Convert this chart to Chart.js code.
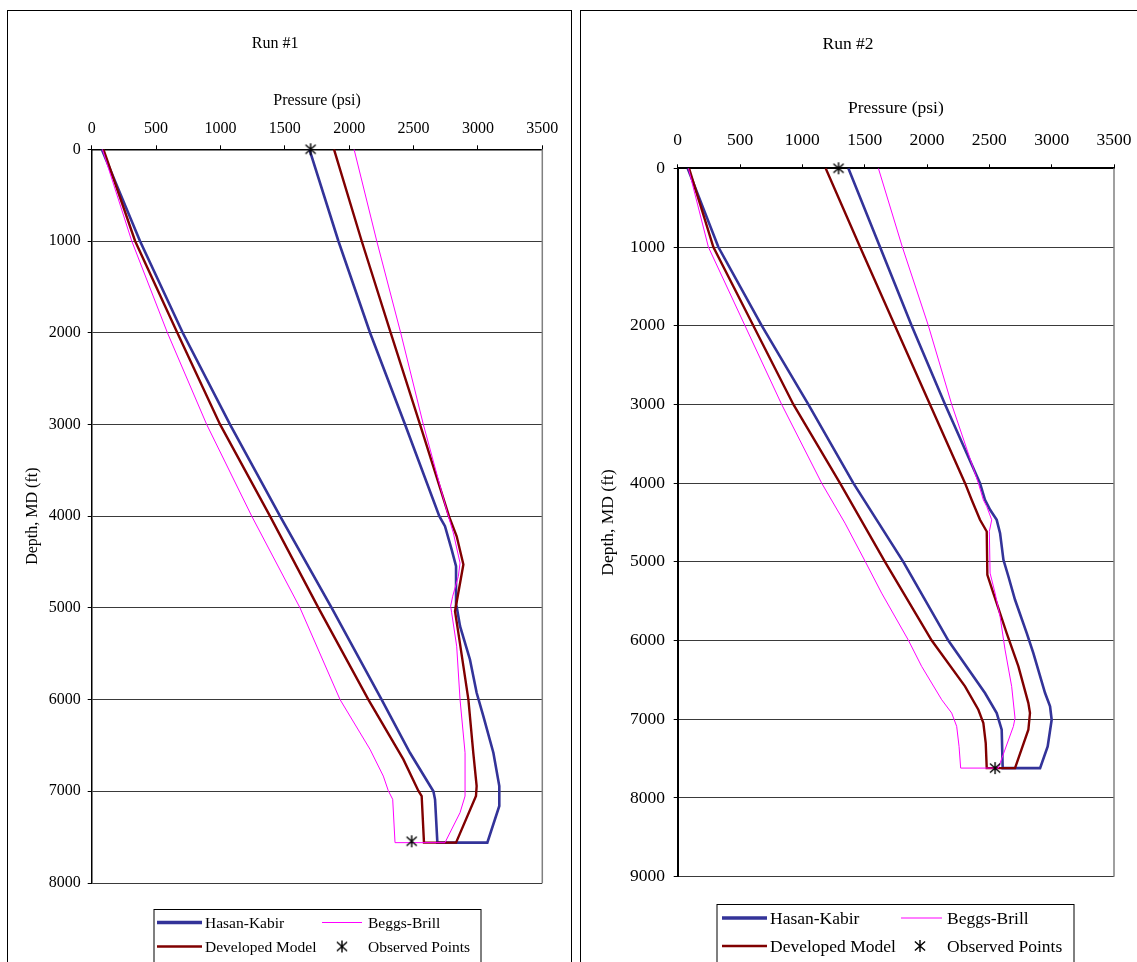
<!DOCTYPE html>
<html>
<head>
<meta charset="utf-8">
<script src="https://cdn.jsdelivr.net/npm/chart.js@4.4.0/dist/chart.umd.min.js"></script>
<style>
  html, body { margin:0; padding:0; background:#fff; width:1137px; height:962px; overflow:hidden; position:relative; }
  .panel { position:absolute; box-sizing:border-box; border:1px solid #000; }
  canvas { position:absolute; }
</style>
</head>
<body>
<div class="panel" style="left:7px; top:10px; width:565px; height:1000px;"></div>
<div class="panel" style="left:580px; top:10px; width:600px; height:1000px;"></div>
<canvas id="c1" width="563" height="951" style="left:8px; top:11px;"></canvas>
<canvas id="c2" width="563" height="951" style="left:582px; top:11px;"></canvas>
<script>
// ---------------- DATA ----------------
const seriesNames = ['Hasan-Kabir', 'Beggs-Brill', 'Developed Model', 'Observed Points'];
const pressureTicks = [0, 500, 1000, 1500, 2000, 2500, 3000, 3500];
const depthTicks1 = [0, 1000, 2000, 3000, 4000, 5000, 6000, 7000, 8000];
const depthTicks2 = [0, 1000, 2000, 3000, 4000, 5000, 6000, 7000, 8000, 9000];

// Run #1
const run1HasanP = [78, 375, 707, 1074, 1463, 1864, 2252, 2472, 2654, 2667, 2685, 3073, 3166, 3166, 3120, 3042, 2990, 2938, 2861, 2835, 2830, 2796, 2744, 2700, 2434, 2162, 1916, 1691];
const run1HasanD = [0, 1000, 2000, 3000, 4000, 5000, 6000, 6580, 7000, 7090, 7560, 7560, 7160, 6943, 6580, 6180, 5926, 5563, 5200, 4989, 4546, 4365, 4110, 4000, 3000, 2000, 1000, 0];
const run1BeggsP = [83, 311, 588, 893, 1243, 1618, 1929, 2162, 2265, 2304, 2338, 2356, 2744, 2861, 2900, 2900, 2861, 2835, 2796, 2788, 2804, 2848, 2861, 2809, 2760, 2576, 2400, 2214, 2038];
const run1BeggsD = [0, 1000, 2000, 3000, 4000, 5000, 6000, 6543, 6834, 6994, 7088, 7560, 7560, 7233, 7052, 6580, 6000, 5418, 5054, 4982, 4873, 4655, 4510, 4183, 3950, 3000, 2000, 1000, 0];
const run1DevP = [91, 337, 665, 997, 1385, 1761, 2149, 2421, 2537, 2563, 2581, 2830, 2985, 2990, 2964, 2926, 2887, 2848, 2822, 2887, 2835, 2775, 2550, 2322, 2097, 1882];
const run1DevD = [0, 1000, 2000, 3000, 4000, 5000, 6000, 6652, 6994, 7052, 7560, 7560, 7052, 6943, 6580, 6000, 5636, 5272, 5036, 4528, 4219, 4000, 3000, 2000, 1000, 0];
const run1ObsP = [1700, 2485];
const run1ObsD = [0, 7545];

// Run #2
const run2HasanP = [80, 326, 674, 1048, 1409, 1810, 2171, 2465, 2559, 2599, 2607, 2907, 2968, 3000, 2987, 2947, 2853, 2800, 2706, 2653, 2613, 2586, 2559, 2506, 2465, 2425, 2145, 1877, 1623, 1369];
const run2HasanD = [0, 1000, 2000, 3000, 4000, 5000, 6000, 6667, 6921, 7133, 7620, 7620, 7345, 7006, 6836, 6667, 6159, 5905, 5482, 5186, 4974, 4635, 4466, 4339, 4212, 4000, 3000, 2000, 1000, 0];
const run2BeggsP = [86, 246, 540, 834, 1155, 1342, 1503, 1636, 1850, 1957, 2118, 2198, 2238, 2257, 2270, 2572, 2693, 2706, 2679, 2626, 2586, 2546, 2506, 2500, 2519, 2479, 2452, 2412, 2198, 2011, 1802, 1610];
const run2BeggsD = [0, 1000, 2000, 3000, 4000, 4508, 4991, 5397, 5994, 6328, 6752, 6921, 7090, 7345, 7620, 7620, 7090, 6985, 6583, 6117, 5694, 5397, 5143, 4614, 4466, 4297, 4212, 4000, 3000, 2000, 1000, 0];
const run2DevP = [91, 286, 607, 928, 1302, 1663, 2038, 2305, 2412, 2452, 2471, 2479, 2706, 2813, 2826, 2813, 2733, 2639, 2532, 2484, 2479, 2425, 2358, 2305, 2024, 1743, 1463, 1187];
const run2DevD = [0, 1000, 2000, 3000, 4000, 5000, 6000, 6582, 6879, 7048, 7302, 7620, 7620, 7133, 6921, 6794, 6328, 5905, 5397, 5164, 4614, 4466, 4212, 4000, 3000, 2000, 1000, 0];
const run2ObsP = [1290, 2546];
const run2ObsD = [0, 7620];

// ---------------- STYLE ----------------
const FONT = "'Liberation Serif', 'Times New Roman', serif";
const COL_HK = '#333399', COL_BB = '#FF00FF', COL_DM = '#800000';

function makeAsterisk(size) {
  const c = document.createElement('canvas');
  c.width = size; c.height = size;
  const g = c.getContext('2d');
  g.strokeStyle = '#000'; g.lineWidth = 1.4;
  const m = size / 2, r = size / 2 - 1;
  g.beginPath();
  g.moveTo(m, m - r); g.lineTo(m, m + r);
  g.moveTo(m - r * 0.85, m - r * 0.75); g.lineTo(m + r * 0.85, m + r * 0.75);
  g.moveTo(m + r * 0.85, m - r * 0.75); g.lineTo(m - r * 0.85, m + r * 0.75);
  g.stroke();
  return c;
}
const asterisk = makeAsterisk(14);

function pts(P, D) { return P.map((p, i) => ({ x: p, y: D[i] })); }

const framePlugin = {
  id: 'frame',
  beforeDatasetsDraw(chart) {
    const { ctx, chartArea: a } = chart;
    ctx.save();
    ctx.strokeStyle = '#808080'; ctx.lineWidth = 1.5;
    ctx.beginPath(); ctx.moveTo(a.right, a.top); ctx.lineTo(a.right, a.bottom); ctx.stroke();
    ctx.restore();
  }
};

const boxLegendPlugin = {
  id: 'boxLegend',
  afterDraw(chart, args, o) {
    if (!o || !o.box) return;
    const ctx = chart.ctx;
    const ds = chart.data.datasets;
    ctx.save();
    ctx.strokeStyle = '#000'; ctx.lineWidth = 1;
    ctx.strokeRect(o.box[0] + 0.5, o.box[1] + 0.5, o.box[2], o.box[3]);
    ctx.font = o.fontSize + 'px ' + FONT;
    ctx.textBaseline = 'middle'; ctx.textAlign = 'left'; ctx.fillStyle = '#000';
    // order: [Hasan-Kabir, Beggs-Brill] / [Developed Model, Observed Points]
    const layout = [[0, 0, 0], [1, 1, 0], [2, 0, 1], [3, 1, 1]];
    layout.forEach(([di, col, row]) => {
      const d = ds[di];
      const y = o.rows[row];
      const c = o.cols[col];
      if (d.showLine === false) {
        ctx.drawImage(asterisk, c.marker - asterisk.width / 2, y - asterisk.height / 2);
      } else {
        ctx.strokeStyle = d.borderColor; ctx.lineWidth = d.legendWidth;
        ctx.beginPath(); ctx.moveTo(c.l0, y); ctx.lineTo(c.l1, y); ctx.stroke();
      }
      ctx.fillText(d.label, c.text, y + 1);
    });
    ctx.restore();
  }
};

function buildChart(id, run) {
  const fs = run.fontSize;
  const lh = fs * 1.2;
  return new Chart(document.getElementById(id), {
    type: 'scatter',
    data: {
      datasets: [
        { label: seriesNames[0], data: pts(run.hkP, run.hkD), showLine: true, borderColor: COL_HK, backgroundColor: COL_HK, borderWidth: 2.6, legendWidth: 3.5, pointRadius: 0, tension: 0, order: 3 },
        { label: seriesNames[1], data: pts(run.bbP, run.bbD), showLine: true, borderColor: COL_BB, backgroundColor: COL_BB, borderWidth: 1, legendWidth: 1, pointRadius: 0, tension: 0, order: 1 },
        { label: seriesNames[2], data: pts(run.dmP, run.dmD), showLine: true, borderColor: COL_DM, backgroundColor: COL_DM, borderWidth: 2.4, legendWidth: 2.5, pointRadius: 0, tension: 0, order: 2 },
        { label: seriesNames[3], data: pts(run.obP, run.obD), showLine: false, pointStyle: asterisk, pointRadius: 7, borderColor: '#000', backgroundColor: '#000', clip: false, order: 0 }
      ]
    },
    options: {
      responsive: false,
      animation: false,
      devicePixelRatio: 1,
      layout: { padding: { left: 0, right: run.padRight, top: 0, bottom: run.padBottom } },
      plugins: {
        legend: { display: false },
        tooltip: { enabled: false },
        title: { display: true, text: run.title, color: '#000', font: { family: FONT, size: fs, weight: 'normal' }, padding: { top: run.titleTop - lh / 2, bottom: 0 } },
        boxLegend: run.legend
      },
      scales: {
        x: {
          type: 'linear', position: 'top', min: 0, max: 3500,
          afterBuildTicks: s => { s.ticks = pressureTicks.map(v => ({ value: v })); },
          afterFit: s => { s.height = run.xAxisHeight; },
          ticks: { color: '#000', font: { family: FONT, size: fs }, padding: run.xTickPad, maxRotation: 0, autoSkip: false, callback: v => String(v) },
          grid: { drawOnChartArea: false, drawTicks: true, tickLength: 4, tickColor: '#000', color: '#000' },
          border: { display: true, color: '#000', width: run.axisWidth },
          title: { display: true, text: 'Pressure (psi)', color: '#000', font: { family: FONT, size: fs }, padding: { top: run.xTitleTop - lh / 2, bottom: 0 } }
        },
        y: {
          type: 'linear', reverse: true, min: 0, max: run.depthMax,
          afterBuildTicks: s => { s.ticks = run.depthTicks.map(v => ({ value: v })); },
          afterFit: s => { s.width = run.yAxisWidth; },
          ticks: { color: '#000', font: { family: FONT, size: fs }, padding: run.yTickPad, autoSkip: false, callback: v => String(v) },
          grid: { drawOnChartArea: true, color: '#3a3a3a', lineWidth: 1, drawTicks: true, tickLength: 4, tickColor: '#000' },
          border: { display: true, color: '#000', width: run.axisWidth },
          title: { display: true, text: 'Depth, MD (ft)', color: '#000', font: { family: FONT, size: fs }, padding: { top: run.yTitleX - lh / 2, bottom: 0 } }
        }
      }
    },
    plugins: [framePlugin, boxLegendPlugin]
  });
}

buildChart('c1', {
  title: 'Run #1', fontSize: 16,
  hkP: run1HasanP, hkD: run1HasanD, bbP: run1BeggsP, bbD: run1BeggsD, dmP: run1DevP, dmD: run1DevD, obP: run1ObsP, obD: run1ObsD,
  depthMax: 8000, depthTicks: depthTicks1,
  padRight: 28.7, padBottom: 79, titleTop: 33, xAxisHeight: 95.7, xTitleTop: 46.9, xTickPad: 6.5,
  yAxisWidth: 83.7, yTickPad: 7, yTitleX: 25, axisWidth: 1.5,
  legend: { box: [145.5, 898, 327, 60], fontSize: 15.5, rows: [911.5, 935.5],
    cols: [{ l0: 149, l1: 194, text: 197, marker: 171 }, { l0: 314, l1: 354, text: 360, marker: 334 }] }
});

buildChart('c2', {
  title: 'Run #2', fontSize: 17.5,
  hkP: run2HasanP, hkD: run2HasanD, bbP: run2BeggsP, bbD: run2BeggsD, dmP: run2DevP, dmD: run2DevD, obP: run2ObsP, obD: run2ObsD,
  depthMax: 9000, depthTicks: depthTicks2,
  padRight: 31, padBottom: 85.3, titleTop: 33, xAxisHeight: 113.8, xTitleTop: 53.5, xTickPad: 13,
  yAxisWidth: 95.7, yTickPad: 8.7, yTitleX: 26, axisWidth: 2,
  legend: { box: [134.5, 893, 357, 70], fontSize: 17.5, rows: [907, 935],
    cols: [{ l0: 140, l1: 185, text: 188, marker: 162 }, { l0: 319, l1: 360, text: 365, marker: 338 }] }
});
</script>
</body>
</html>
